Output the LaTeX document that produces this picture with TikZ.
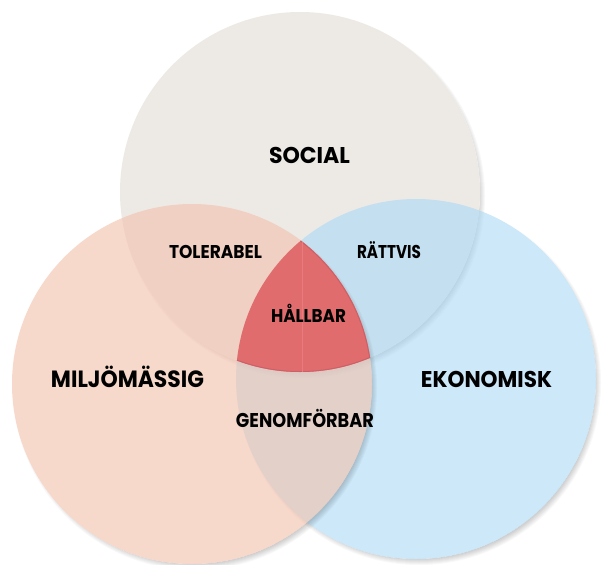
\documentclass[tikz,border=0pt]{standalone}
\usepackage{fontspec}
\setmainfont{Poppins}
\usepackage{graphicx}
\definecolor{socialc}{RGB}{237,234,230}
\definecolor{ekoc}{RGB}{170,217,245}
\definecolor{miljoc}{RGB}{243,192,170}
\definecolor{hallc}{RGB}{224,108,110}
\definecolor{hallline}{RGB}{231,124,125}
\definecolor{halledge}{RGB}{207,95,102}
\newcommand{\circshadow}[1]{%
  \begin{scope}[even odd rule]
    \clip (-20,-20) rectangle (624,584) (#1) circle (180);
    \foreach \k in {0,...,7}
      \fill[black, opacity=0.028] ([shift={(3,4)}]#1) circle ({175+\k});
  \end{scope}}
\newcommand{\lab}[3]{\resizebox{#1}{#2}{\smash{#3}\vphantom{H}}}
\begin{document}
\begin{tikzpicture}[x=1pt,y=-1pt,
  lbl/.style={anchor=base, inner sep=0pt, font=\bfseries, text=black}]
\useasboundingbox (0,0) rectangle (604,564);
\fill[white] (0,0) rectangle (604,564);
\coordinate (cs) at (300,192);
\coordinate (cm) at (192,384);
\coordinate (ce) at (416,379);
% social circle
\circshadow{cs}
\fill[socialc] (cs) circle (180);
% ekonomisk circle
\circshadow{ce}
\fill[ekoc, fill opacity=0.6] (ce) circle (180);
% miljomassig circle
\circshadow{cm}
\fill[miljoc, fill opacity=0.6] (cm) circle (180);
% centre region
\begin{scope}
  \clip (cs) circle (180);
  \clip (cm) circle (180);
  \clip (ce) circle (180);
  \fill[hallc] (100,200) rectangle (500,420);
  \draw[halledge, line width=2] (cm) circle (180);
  \draw[halledge, line width=2] (cs) circle (180);
  \draw[hallline, line width=0.6] (302.5,230) -- (302.5,400);
\end{scope}
% labels
\node[lbl] (social) at (309.5,164) {\lab{81pt}{16pt}{SOCIAL}};
\node[lbl] (miljo) at (127.5,387) {\lab{153pt}{16.5pt}{MILJÖMÄSSIG}};
\node[lbl] (eko) at (486.5,387) {\lab{131pt}{16pt}{EKONOMISK}};
\node[lbl] (toler) at (215.5,258) {\lab{93pt}{13pt}{TOLERABEL}};
\node[lbl] (ratt) at (389,258) {\lab{64pt}{13pt}{RÄTTVIS}};
\node[lbl] (hall) at (308.5,322) {\lab{75pt}{13pt}{HÅLLBAR}};
\node[lbl] (genom) at (305,427) {\lab{138pt}{14pt}{GENOMFÖRBAR}};
\end{tikzpicture}
\end{document}
